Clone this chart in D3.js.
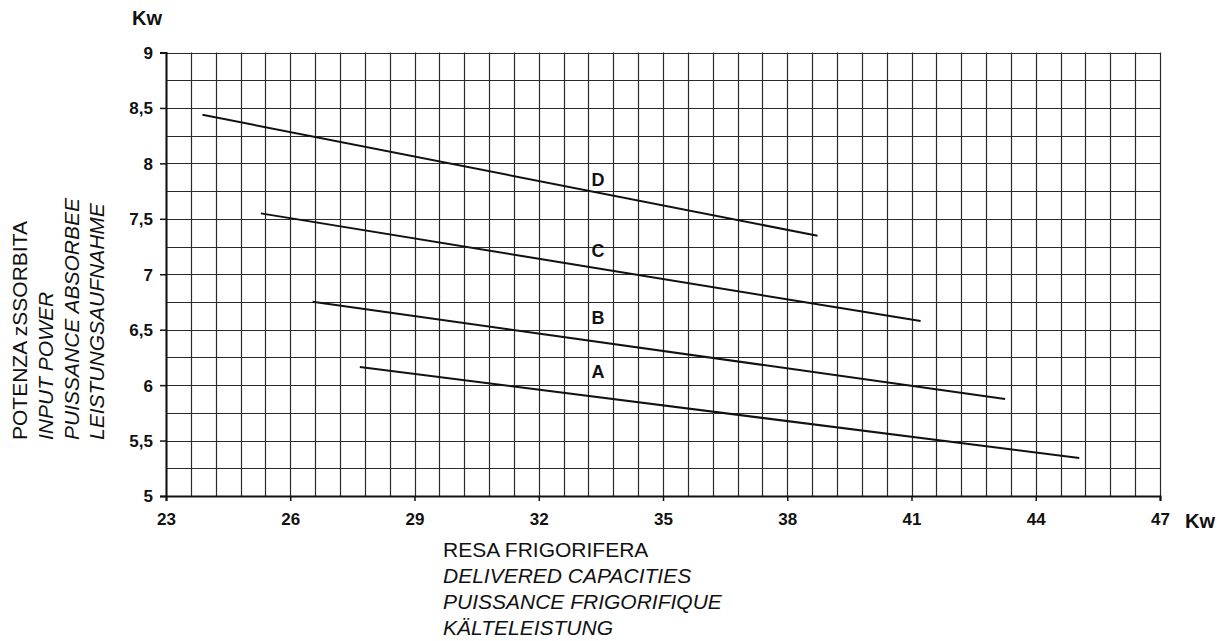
<!DOCTYPE html>
<html>
<head>
<meta charset="utf-8">
<script src="https://cdn.jsdelivr.net/npm/d3@7"></script>
<style>
  html, body { margin: 0; padding: 0; background: #fff; }
  svg { display: block; font-family: "Liberation Sans", Arial, sans-serif; }
</style>
</head>
<body>
<svg id="chart" width="1227" height="641"></svg>
<script>
// ---- data ----
const seriesNames = ["A", "B", "C", "D"];
const seriesStartX = [27.68, 26.54, 25.29, 23.88];
const seriesStartY = [6.163, 6.752, 7.549, 8.438];
const seriesEndX   = [45.05, 43.26, 41.22, 38.73];
const seriesEndY   = [5.343, 5.875, 6.578, 7.347];
const labelX = [33.43, 33.43, 33.43, 33.43];
const labelY = [6.118, 6.605, 7.21, 7.85];
const xTicks = [23, 26, 29, 32, 35, 38, 41, 44, 47];
const yTicks = [5, 5.5, 6, 6.5, 7, 7.5, 8, 8.5, 9];
const yLabelLines = ["POTENZA zSSORBITA", "INPUT POWER", "PUISSANCE ABSORBEE", "LEISTUNGSAUFNAHME"];
const xLabelLines = ["RESA FRIGORIFERA", "DELIVERED CAPACITIES", "PUISSANCE FRIGORIFIQUE", "KÄLTELEISTUNG"];
const unitLabel = "Kw";

// ---- layout ----
const svg = d3.select("#chart");
const pLeft = 166, pRight = 1160, pTop = 52.5, pBottom = 496;
const x = d3.scaleLinear().domain([23, 47]).range([pLeft, pRight]);
const y = d3.scaleLinear().domain([5, 9]).range([pBottom, pTop]);

// grid
const xGrid = d3.range(0, 41).map(i => 23 + i * 0.6);
const yGrid = d3.range(0, 17).map(i => 5 + i * 0.25);
const g = svg.append("g");
g.selectAll("line.vx").data(xGrid).join("line")
  .attr("x1", d => Math.round(x(d)) + 0.5).attr("x2", d => Math.round(x(d)) + 0.5)
  .attr("y1", pTop).attr("y2", pBottom)
  .attr("stroke", "#2a2a2a").attr("stroke-width", 1.2);
g.selectAll("line.hy").data(yGrid).join("line")
  .attr("y1", d => Math.round(y(d)) + 0.5).attr("y2", d => Math.round(y(d)) + 0.5)
  .attr("x1", pLeft).attr("x2", pRight)
  .attr("stroke", "#2a2a2a").attr("stroke-width", 1.2);

// axes
const fmt = d => String(d).replace(".", ",");
const yAxis = d3.axisLeft(y).tickValues(yTicks).tickFormat(fmt).tickSize(6).tickPadding(7);
const yg = svg.append("g").attr("transform", `translate(${pLeft},0)`).call(yAxis);
const xAxis = d3.axisBottom(x).tickValues(xTicks).tickFormat(d => d).tickSize(5).tickPadding(12);
const xg = svg.append("g").attr("transform", `translate(0,${pBottom})`).call(xAxis);
[yg, xg].forEach(a => {
  a.select(".domain").attr("stroke", "#111").attr("stroke-width", 2);
  a.selectAll(".tick line").attr("stroke", "#111").attr("stroke-width", 1.5);
  a.selectAll(".tick text").attr("fill", "#111")
    .style("font-family", "'Liberation Sans', Arial, sans-serif")
    .style("font-size", "17px").style("font-weight", "bold");
});
yg.selectAll(".tick text").attr("dy", "0.35em");

// series lines
const lineData = seriesNames.map((n, i) => ({
  name: n,
  pts: [[seriesStartX[i], seriesStartY[i]], [seriesEndX[i], seriesEndY[i]]]
}));
const lineGen = d3.line().x(d => x(d[0])).y(d => y(d[1]));
svg.selectAll("path.series").data(lineData).join("path")
  .attr("d", d => lineGen(d.pts))
  .attr("fill", "none").attr("stroke", "#111").attr("stroke-width", 2);

// series labels
svg.selectAll("text.slabel").data(seriesNames).join("text")
  .attr("x", (d, i) => x(labelX[i])).attr("y", (d, i) => y(labelY[i]))
  .attr("text-anchor", "middle").attr("dy", "0.35em")
  .style("font-size", "18px").style("font-weight", "bold").attr("fill", "#111")
  .text(d => d);

// unit labels
svg.append("text").attr("x", 132).attr("y", 25)
  .style("font-size", "20px").style("font-weight", "bold").attr("fill", "#111").text(unitLabel);
svg.append("text").attr("x", 1185).attr("y", 528)
  .style("font-size", "20px").style("font-weight", "bold").attr("fill", "#111").text(unitLabel);

// y axis title (rotated)
const yCols = [27, 53, 79, 104];
yLabelLines.forEach((t, i) => {
  svg.append("text")
    .attr("transform", `translate(${yCols[i]},440) rotate(-90)`)
    .attr("text-anchor", "start")
    .style("font-size", "21px")
    .style("font-style", i === 0 ? "normal" : "italic")
    .attr("fill", "#111").text(t);
});

// x axis title
const xRows = [557, 583, 609, 635];
xLabelLines.forEach((t, i) => {
  svg.append("text").attr("x", 443).attr("y", xRows[i])
    .style("font-size", "21px")
    .style("font-style", i === 0 ? "normal" : "italic")
    .attr("fill", "#111").text(t);
});
</script>
</body>
</html>
